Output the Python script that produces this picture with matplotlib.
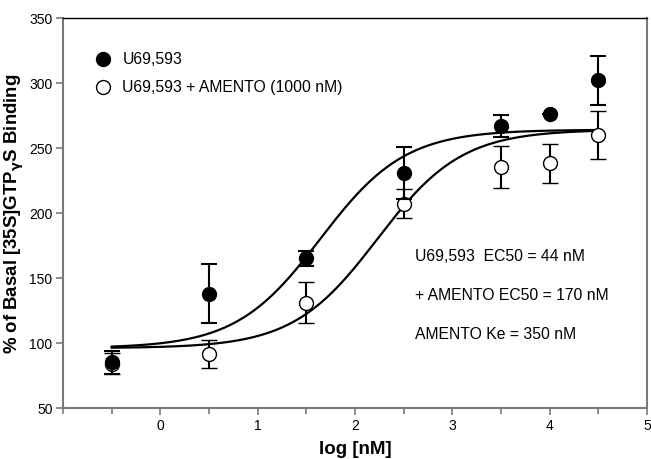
import numpy as np
import matplotlib
matplotlib.use('Agg')
import matplotlib.pyplot as plt
from matplotlib.ticker import MultipleLocator

plt.rcParams['font.family'] = ['Liberation Sans', 'DejaVu Sans']

log_conc = [-0.5, 0.5, 1.5, 2.5, 3.5, 4.0, 4.5]
u69_mean = [85, 138, 165, 231, 267, 276, 302]
u69_err = [9, 23, 6, 20, 8.5, 0, 19]
amento_mean = [84, 91.5, 131, 207, 235.5, 238, 260]
amento_err = [8, 10.5, 16, 11, 16, 15, 18.5]

# fit parameters (sigmoid, hill slope 1)
bottom, top = 96, 264
ec50_u69 = 44      # nM
ec50_amento = 170  # nM

fig = plt.figure(figsize=(6.51, 4.6), dpi=100)
ax = fig.add_axes([0.0968, 0.111, 0.897, 0.848])

def sigmoid(x, ec50):
    return bottom + (top - bottom) / (1 + 10 ** (np.log10(ec50) - x))

xs = np.linspace(log_conc[0], log_conc[-1], 300)
ax.plot(xs, sigmoid(xs, ec50_u69), color='black', lw=1.6, zorder=2)
ax.plot(xs, sigmoid(xs, ec50_amento), color='black', lw=1.6, zorder=2)

ax.errorbar(log_conc, amento_mean, yerr=amento_err, fmt='o', ms=10, mfc='white',
            mec='black', mew=1.0, ecolor='black', elinewidth=1.5, capsize=5.5,
            capthick=1.5, zorder=3)
ax.errorbar(log_conc, u69_mean, yerr=u69_err, fmt='o', ms=10, mfc='black',
            mec='black', ecolor='black', elinewidth=1.5, capsize=5.5,
            capthick=1.5, zorder=4)

ax.set_xlim(-1, 5)
ax.set_ylim(50, 350)
ax.xaxis.set_minor_locator(MultipleLocator(0.5))
ax.yaxis.set_major_locator(MultipleLocator(50))
ax.set_xticks([0, 1, 2, 3, 4, 5])

for s in ['left', 'bottom', 'right']:
    ax.spines[s].set_color('#7a7a7a')
    ax.spines[s].set_linewidth(1.5)
ax.spines['top'].set_color('black')
ax.spines['top'].set_linewidth(1.0)
ax.tick_params(which='both', direction='out', color='#7a7a7a', labelsize=10, pad=2.5)
ax.tick_params(which='major', length=5, width=1.2)
ax.tick_params(which='minor', length=4, width=1.2)

ax.set_xlabel('log [nM]', fontsize=13.5, fontweight='bold')
ax.set_ylabel('% of Basal [35S]GTP$_\\mathbf{\\gamma}$S Binding', fontsize=13.4,
              fontweight='bold')
ax.xaxis.set_label_coords(0.5, -0.083)
ax.yaxis.set_label_coords(-0.064, 0.5)

# legend
ax.plot([-0.59], [318.5], 'o', ms=10, color='black')
ax.text(-0.39, 318.5, 'U69,593', fontsize=11.3, va='center')
ax.plot([-0.59], [297], 'o', ms=10, mfc='white', mec='black', mew=1.0)
ax.text(-0.39, 297, 'U69,593 + AMENTO (1000 nM)', fontsize=11.3, va='center')

ax.text(2.62, 167, 'U69,593  EC50 = 44 nM', fontsize=11.3, va='center')
ax.text(2.62, 137, '+ AMENTO EC50 = 170 nM', fontsize=11.3, va='center')
ax.text(2.62, 107, 'AMENTO Ke = 350 nM', fontsize=11.3, va='center')

fig.savefig('out.png', dpi=100)
